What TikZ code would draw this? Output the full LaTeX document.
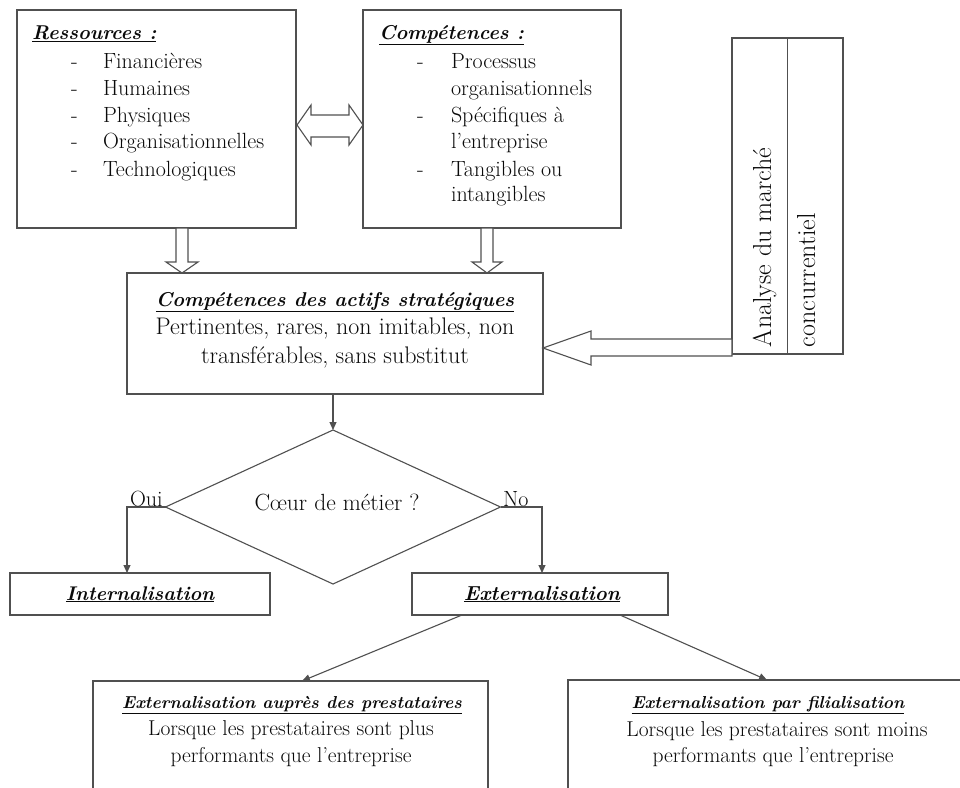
\documentclass[tikz,border=0pt]{standalone}
\usetikzlibrary{arrows.meta,calc,shapes.geometric}
\definecolor{lin}{RGB}{80,80,80}
\definecolor{ink}{RGB}{10,10,10}
\newcommand{\myul}[1]{\underline{#1}}
\tikzset{
  box/.style={draw=lin, line width=1.2pt, inner sep=0pt, outer sep=0pt, fill=white},
  hollow/.style={draw=lin, line width=1.1pt, fill=white, line join=miter},
  conn/.style={draw=lin, line width=1.1pt, -{Triangle[length=8pt,width=7pt]}},
  txt/.style={text=ink, inner sep=0pt, outer sep=0pt},
  item/.style={txt, anchor=base west, font=\fontsize{22}{26}\selectfont},
  ttl/.style={txt, font=\fontsize{20}{24}\selectfont\bfseries\itshape},
  body/.style={txt, anchor=base, font=\fontsize{24}{28}\selectfont},
  small/.style={txt, anchor=base, font=\fontsize{21.5}{25}\selectfont},
  smallttl/.style={txt, anchor=base, font=\fontsize{17.3}{21}\selectfont\bfseries\itshape},
}
\begin{document}
\begin{tikzpicture}[x=1pt,y=-1pt]
\useasboundingbox (0,0) rectangle (960,787);
\clip (0,0) rectangle (960,787);
\fill[white] (0,0) rectangle (960,787);

% ---- top boxes
\node[box, minimum width=279pt, minimum height=218pt] (res) at (156.5,119) {};
\node[box, minimum width=258pt, minimum height=218pt] (comp) at (492,119) {};
\node[box, minimum width=111pt, minimum height=316pt] (ana) at (787.5,196) {};
\draw[lin, line width=1.2pt] (ana.north) -- (ana.south);

% Ressources text
\node[ttl, anchor=base west] (resT) at (32,39) {\myul{Ressources :}};
\node[item] (r1d) at (71,68) {-};  \node[item] (r1) at (103,68) {Financières};
\node[item] (r2d) at (71,95) {-};  \node[item] (r2) at (103,95) {Humaines};
\node[item] (r3d) at (71,122) {-}; \node[item] (r3) at (103,122) {Physiques};
\node[item] (r4d) at (71,148) {-}; \node[item] (r4) at (103,148) {Organisationnelles};
\node[item] (r5d) at (71,176) {-}; \node[item] (r5) at (103,176) {Technologiques};

% Competences text
\node[ttl, anchor=base west] (compT) at (379,39) {\myul{Compétences :}};
\node[item] (c1d) at (417,68) {-};  \node[item] (c1) at (451,68) {Processus};
\node[item] (c1b) at (451,95) {organisationnels};
\node[item] (c2d) at (417,122) {-}; \node[item] (c2) at (451,122) {Spécifiques à};
\node[item] (c2b) at (451,148) {l’entreprise};
\node[item] (c3d) at (417,176) {-}; \node[item] (c3) at (451,176) {Tangibles ou};
\node[item] (c3b) at (451,201) {intangibles};

% Analyse (rotated)
\node[txt, rotate=90, anchor=base west, font=\fontsize{26}{30}\selectfont] (anaT1) at (771,347) {Analyse du marché};
\node[txt, rotate=90, anchor=base west, font=\fontsize{26}{30}\selectfont] (anaT2) at (815,347) {concurrentiel};

% double hollow arrow
\draw[hollow] (297,125) -- (311,105) -- (311,115) -- (349,115) -- (349,105) -- (363,125)
  -- (349,145) -- (349,137) -- (311,137) -- (311,145) -- cycle;

% central box
\node[box, minimum width=416pt, minimum height=121pt] (csa) at (335,333.5) {};
\node[txt, anchor=base, font=\fontsize{20}{24}\selectfont\bfseries\itshape] (csaT) at (335,306) {\myul{Compétences des actifs stratégiques}};
\node[body] (csa1) at (335,334) {Pertinentes, rares, non imitables, non};
\node[body] (csa2) at (335,363) {transférables, sans substitut};

% hollow down arrows
\draw[hollow] (176,228) -- (176,262) -- (166,262) -- (182,273) -- (198,262) -- (188,262) -- (188,228) -- cycle;
\draw[hollow] (481,228) -- (481,262) -- (472,262) -- (487,273) -- (502,262) -- (493,262) -- (493,228) -- cycle;

% hollow left arrow
\draw[hollow] (543,348) -- (591,331) -- (591,339) -- (732,339) -- (732,356) -- (591,356) -- (591,365) -- cycle;

% decision diamond
\node[draw=lin, line width=1.1pt, diamond, minimum width=335pt, minimum height=154pt, inner sep=0pt, outer sep=0pt] (dia) at (333,507) {};
\node[txt, anchor=base, font=\fontsize{23.4}{27}\selectfont] (diaT) at (337,510) {Cœur de métier ?};
\draw[conn] (dia.north |- csa.south) -- (dia.north);

% outcomes
\node[box, minimum width=260pt, minimum height=42pt] (int) at (140,594) {};
\node[txt, anchor=base, font=\fontsize{19.8}{23}\selectfont\bfseries\itshape] (intT) at (140,600) {\myul{Internalisation}};
\node[box, minimum width=256pt, minimum height=42pt] (ext) at (540,594) {};
\node[txt, anchor=base, font=\fontsize{20.3}{24}\selectfont\bfseries\itshape] (extT) at (542,600) {\myul{Externalisation}};

\draw[conn] (dia.west) -| ($(int.north west)+(117,0)$);
\draw[conn] (dia.east) -| ($(ext.north west)+(130,0)$);
\node[txt, anchor=base west, font=\fontsize{22}{26}\selectfont] (oui) at (130,506) {Oui};
\node[txt, anchor=base west, font=\fontsize{22}{26}\selectfont] (no) at (503,506) {No};

% bottom boxes
\node[box, minimum width=395pt, minimum height=131pt] (bl) at (290.5,746.5) {};
\node[box, minimum width=481pt, minimum height=131pt] (br) at (808.5,745.5) {};
\node[smallttl] (blT) at (292,708) {\myul{Externalisation auprès des prestataires}};
\node[small] (bl1) at (291,735) {Lorsque les prestataires sont plus};
\node[small] (bl2) at (291,762) {performants que l’entreprise};
\node[smallttl] (brT) at (768,708) {\myul{Externalisation par filialisation}};
\node[small] (br1) at (777,736) {Lorsque les prestataires sont moins};
\node[small] (br2) at (773,762) {performants que l’entreprise};

\draw[conn] ($(ext.south west)+(50,0)$) -- ($(bl.north west)+(209,0)$);
\draw[conn] ($(ext.south west)+(208,0)$) -- ($(br.north west)+(199,0)$);
\end{tikzpicture}
\end{document}
